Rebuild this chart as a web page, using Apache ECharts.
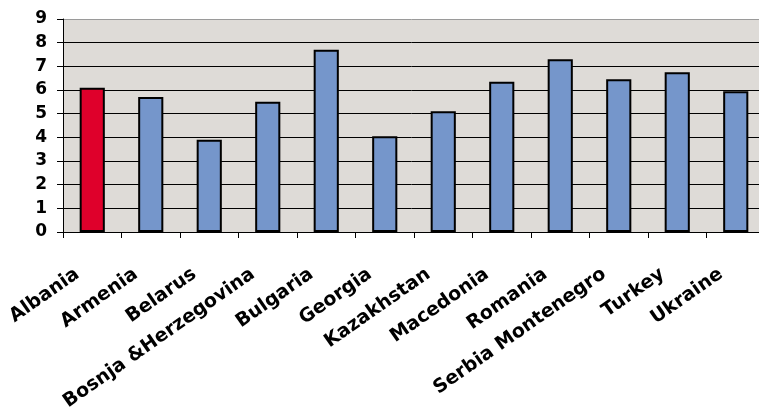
<!DOCTYPE html>
<html>
<head>
<meta charset="utf-8">
<script src="https://cdn.jsdelivr.net/npm/echarts@6/dist/echarts.min.js"></script>
<style>
  html, body { margin: 0; padding: 0; background: #fff; }
  #chart { width: 759px; height: 409px; }
</style>
</head>
<body>
<div id="chart"></div>
<script>
var countries = ['Albania', 'Armenia', 'Belarus', 'Bosnja &Herzegovina', 'Bulgaria', 'Georgia',
    'Kazakhstan', 'Macedonia', 'Romania', 'Serbia Montenegro', 'Turkey', 'Ukraine']
var values = [6.1, 5.7, 3.9, 5.5, 7.7, 4.05, 5.1, 6.35, 7.3, 6.45, 6.75, 5.95]
var highlight = 'Albania'

var Chart = echarts.init(document.getElementById('chart'))
var option = {
    animation: false,
    grid: {
        left: 63,
        right: -6,
        top: 19,
        bottom: 177,
        outerBoundsMode: 'none',
        backgroundColor: '#dedbd7',
        show: true,
        borderWidth: 0
    },
    xAxis: {
        type: 'category',
        data: countries,
        axisLine: { lineStyle: { color: '#000', width: 1 } },
        axisTick: { show: true, length: 6, lineStyle: { color: '#000' } },
        axisLabel: {
            rotate: 35,
            interval: 0,
            margin: 30,
            padding: [0, 18, 0, 0],
            color: '#000',
            fontFamily: 'DejaVu Sans',
            fontWeight: 'bold',
            fontSize: 19
        }
    },
    yAxis: {
        type: 'value',
        min: 0,
        max: 9,
        interval: 1,
        axisLine: { show: true, lineStyle: { color: '#000', width: 1 } },
        axisTick: { show: true, length: 6, lineStyle: { color: '#000' } },
        axisLabel: {
            margin: 16,
            color: '#000',
            fontFamily: 'DejaVu Sans',
            fontWeight: 'bold',
            fontSize: 17
        },
        splitLine: {
            lineStyle: {
                color: ['#000', '#000', '#000', '#000', '#000', '#000', '#000', '#000', '#000', '#9a9a9a'],
                width: 1
            }
        }
    },
    series: [
        {
            type: 'bar',
            barWidth: '43%',
            data: values.map(function (v, i) {
                return {
                    value: v,
                    itemStyle: { color: countries[i] === highlight ? '#df002b' : '#7596cb' }
                }
            }),
            itemStyle: { borderColor: '#000', borderWidth: 2 }
        }
    ]
}
Chart.setOption(option)
</script>
</body>
</html>
